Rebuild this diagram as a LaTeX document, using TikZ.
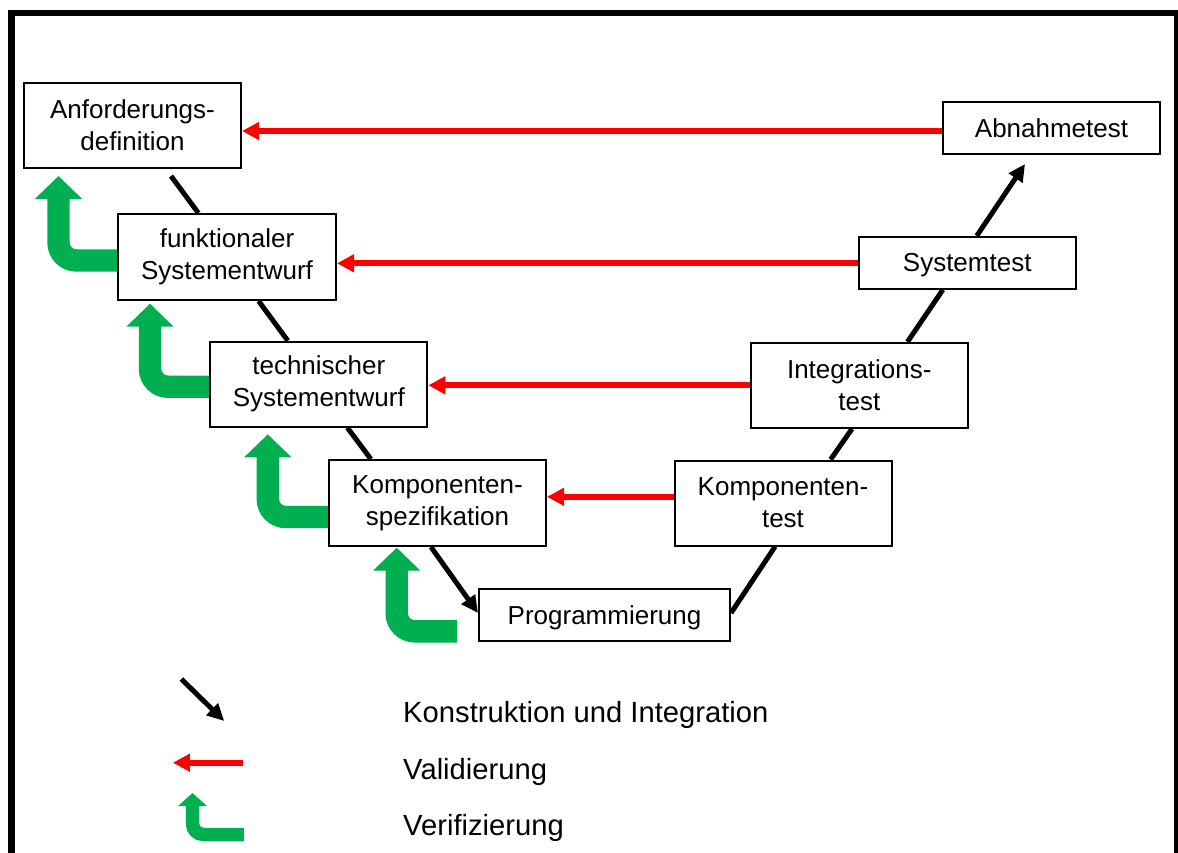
\documentclass[tikz,border=0pt]{standalone}
\usepackage{fontspec}
\setmainfont{Liberation Sans}
\usetikzlibrary{arrows.meta}
\definecolor{vgreen}{RGB}{0,176,80}
\definecolor{vred}{RGB}{255,0,0}
\pgfdeclarelayer{background}
\pgfsetlayers{background,main}
\begin{document}
\begin{tikzpicture}[x=1pt,y=-1pt,
  box/.style={draw=black, line width=2pt, fill=white, inner sep=0pt, align=center,
    font=\fontsize{26}{32}\selectfont, minimum width=217pt, minimum height=85pt},
  onerow/.style={minimum height=52pt, text depth=0pt},
  vline/.style={draw=black, line width=5pt},
  vhead/.style={-{Triangle[length=17pt,width=16pt]}},
  valid/.style={draw=vred, line width=6pt, -{Triangle[length=17pt,width=17pt]}},
  verif/.style={draw=vgreen, line width=22.4pt, rounded corners=18pt,
    -{Triangle[length=23pt,width=46pt]}},
  legverif/.style={draw=vgreen, line width=13.5pt, rounded corners=11pt,
    -{Triangle[length=13pt,width=28pt]}},
  legtext/.style={anchor=base west, inner sep=0pt, font=\fontsize{29.2}{34}\selectfont}
]
\useasboundingbox (0,0) rectangle (1178,852);
\clip (0,0) rectangle (1178,852);

% outer frame
\draw[line width=6.5pt] (11.5,13) rectangle (1177.5,880);

% left branch: specification
\node[box] (A)  at (132.5,125.5) {Anforderungs-\\definition};
\node[box, minimum width=218pt, minimum height=86pt] (F) at (227,257) {funktionaler\\Systementwurf};
\node[box] (T)  at (318.8,384.2) {technischer\\Systementwurf};
\node[box, minimum height=86pt] (K) at (437.5,503) {Komponenten-\\spezifikation};
% bottom
\node[box, onerow, minimum width=251pt] (P) at (604.5,615) {Programmierung};
% right branch: tests
\node[box] (KT) at (783,503) {Komponenten-\\test};
\node[box] (I)  at (859.3,385.3) {Integrations-\\test};
\node[box, onerow] (S)  at (967.2,262.8) {Systemtest};
\node[box, onerow] (AT) at (1051.5,128) {Abnahmetest};

\begin{pgfonlayer}{background}
  % construction and integration (V line)
  \draw[vline] ([xshift=38.5pt,yshift=-7pt]A.south) -- ([xshift=-28.7pt]F.north);
  \draw[vline] ([xshift=31.6pt]F.south) -- ([xshift=-31pt]T.north);
  \draw[vline] ([xshift=28.6pt]T.south) -- ([xshift=-66.7pt]K.north);
  \draw[vline, vhead] ([xshift=-6.5pt]K.south) -- ([yshift=2pt]P.west);
  \draw[vline] ([yshift=2pt]P.east) -- ([xshift=-7.9pt]KT.south);
  \draw[vline] ([xshift=47.6pt]KT.north) -- ([xshift=-7.3pt]I.south);
  \draw[vline] ([xshift=48.2pt]I.north) -- ([xshift=-24.4pt]S.south);
  \draw[vline, vhead] ([xshift=9.6pt]S.north) -- ([xshift=-26.5pt,yshift=-9pt]AT.south);

  % validation
  \draw[valid] ([yshift=-3pt]AT.west) -- ([yshift=-5.5pt]A.east);
  \draw[valid] ([yshift=-0.5pt]S.west) -- ([yshift=-6.3pt]F.east);
  \draw[valid] (I.west) -- ([yshift=-1.1pt]T.east);
  \draw[valid] ([yshift=6.2pt]KT.west) -- ([yshift=6.2pt]K.east);

  % verification
  \draw[verif] ([yshift=-3.5pt]F.west) -| ([xshift=35.5pt,yshift=-7pt]A.south west);
  \draw[verif] ([yshift=-2.5pt]T.west) -| ([xshift=33pt,yshift=-2.7pt]F.south west);
  \draw[verif] ([yshift=-14pt]K.west) -| ([xshift=58.5pt,yshift=-6.6pt]T.south west);
  \draw[verif] ([xshift=-21pt,yshift=-16.3pt]P.west) -| ([xshift=-40.8pt,yshift=-0.7pt]K.south);
\end{pgfonlayer}

% legend
\coordinate (lk1) at (181.3,679);
\coordinate (lk2) at (224.2,721);
\draw[vline, vhead] (lk1) -- (lk2);
\coordinate (lv1) at (242.5,762.7);
\coordinate (lv2) at (172.9,762.7);
\draw[valid] (lv1) -- (lv2);
\coordinate (lg1) at (243.8,834.5);
\coordinate (lg2) at (192.5,793);
\draw[legverif] (lg1) -| (lg2);

\node[legtext] (lt1) at (403,722.7) {Konstruktion und Integration};
\node[legtext] (lt2) at (403,779) {Validierung};
\node[legtext] (lt3) at (403,835) {Verifizierung};
\end{tikzpicture}
\end{document}
